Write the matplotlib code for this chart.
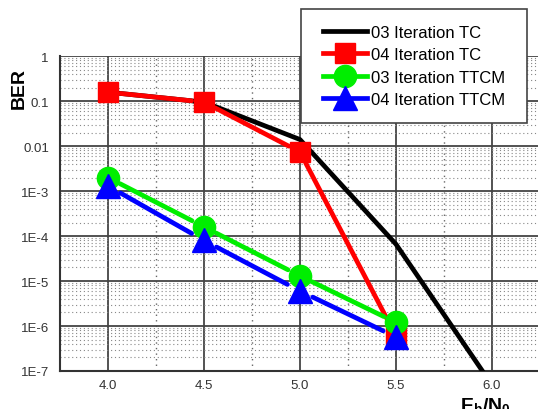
import numpy as np
import matplotlib
matplotlib.use('Agg')
import matplotlib.pyplot as plt
from matplotlib.lines import Line2D
from matplotlib.patches import Rectangle

plt.rcParams['font.family'] = ['Liberation Sans', 'DejaVu Sans']
plt.rcParams['mathtext.fontset'] = 'custom'
plt.rcParams['mathtext.rm'] = 'Liberation Sans'
plt.rcParams['mathtext.bf'] = 'Liberation Sans:bold'

# data
ebno = [4.0, 4.5, 5.0, 5.5]
ebno_tc3 = [4.0, 4.5, 5.0, 5.5, 6.0]
ber_tc3 = [0.158, 0.095, 0.014, 6.6e-5, 4.9e-8]
ber_tc4 = [0.158, 0.095, 0.0074, 6e-7]
ber_ttcm3 = [2.0e-3, 1.6e-4, 1.3e-5, 1.2e-6]
ber_ttcm4 = [1.3e-3, 8e-5, 6e-6, 5.7e-7]

yticks = [1, 0.1, 0.01, 1e-3, 1e-4, 1e-5, 1e-6, 1e-7]
ytick_labels = ['1', '0.1', '0.01', '1E-3', '1E-4', '1E-5', '1E-6', '1E-7']
xticks = [4.0, 4.5, 5.0, 5.5, 6.0]
xtick_labels = ['4.0', '4.5', '5.0', '5.5', '6.0']

fig = plt.figure(figsize=(5.38, 4.10), dpi=100)
ax = fig.add_axes([0.1115, 0.0927, 0.8885, 0.768])

lw = 3.4
ax.plot(ebno_tc3, ber_tc3, color='black', lw=lw, zorder=3)

series = [
    (ber_tc4, '#ff0000', 's', 15, '04 Iteration TC', 4),
    (ber_ttcm3, '#00ee00', 'o', 16, '03 Iteration TTCM', 5),
    (ber_ttcm4, '#0000ff', '^', 17, '04 Iteration TTCM', 6),
]
handles = [Line2D([], [], color='black', lw=lw)]
labels = ['03 Iteration TC']
for ber, col, mk, ms, lab, z in series:
    # line segments stop just short of the markers, as in the original
    for i in range(len(ebno) - 1):
        ax.annotate('', xy=(ebno[i + 1], ber[i + 1]), xytext=(ebno[i], ber[i]),
                    arrowprops=dict(arrowstyle='-', color=col, lw=lw,
                                    shrinkA=ms * 0.6, shrinkB=ms * 0.6),
                    zorder=z)
    ax.plot(ebno, ber, ls='none', marker=mk, ms=ms, color=col, mec=col, zorder=z + 0.5)
    handles.append(Line2D([], [], color=col, lw=lw, marker=mk, ms=ms, mec=col))
    labels.append(lab)

ax.set_yscale('log')
ax.set_ylim(1e-7, 1)
ax.set_xlim(3.75, 6.24)

ax.set_yticks(yticks)
ax.set_yticklabels(ytick_labels)
ax.set_xticks(xticks)
ax.set_xticklabels(xtick_labels)
ax.set_xticks(np.arange(4.25, 6.2, 0.5), minor=True)
ax.tick_params(which='both', length=0, colors='#333333', labelsize=9.5)
ax.tick_params(axis='y', pad=8)
ax.tick_params(axis='x', pad=6)

ax.grid(which='major', color='#444444', lw=1.3, ls='-')
ax.grid(which='minor', axis='y', color='#888888', lw=0.8, ls=(0, (1, 2.5)))
ax.grid(which='minor', axis='x', color='#666666', lw=1.0, ls=(0, (1, 3)))
ax.set_axisbelow(True)

for side in ['top', 'right']:
    ax.spines[side].set_visible(False)
for side in ['left', 'bottom']:
    ax.spines[side].set_color('#333333')
    ax.spines[side].set_linewidth(1.5)

ax.set_ylabel('BER', fontsize=14, fontweight='bold', color='black')
ax.yaxis.set_label_coords(-0.067, 0.90)
ax.set_xlabel(r'$\mathbf{E_b/N_0}$', fontsize=14, color='black', va='top')
ax.xaxis.set_label_coords(0.889, -0.076)

# legend without its own frame; the box is drawn separately with wider side margins
leg = fig.legend(handles, labels, loc='upper right', bbox_to_anchor=(0.9385, 0.9377),
                 fontsize=12, frameon=False, handlelength=2.6, borderpad=0,
                 borderaxespad=0, labelspacing=0.45, handletextpad=0.25)
leg.set_zorder(10)
fig.canvas.draw()
bb = leg.get_window_extent().transformed(fig.transFigure.inverted())
padx, pady = 22 / 538, 16 / 410
box = Rectangle((bb.x0 - padx, bb.y0 - pady), bb.width + 2 * padx, bb.height + 2 * pady,
                transform=fig.transFigure, facecolor='white', edgecolor='#444444',
                lw=1.2, zorder=9)
fig.add_artist(box)

fig.savefig('out.png', dpi=100)
